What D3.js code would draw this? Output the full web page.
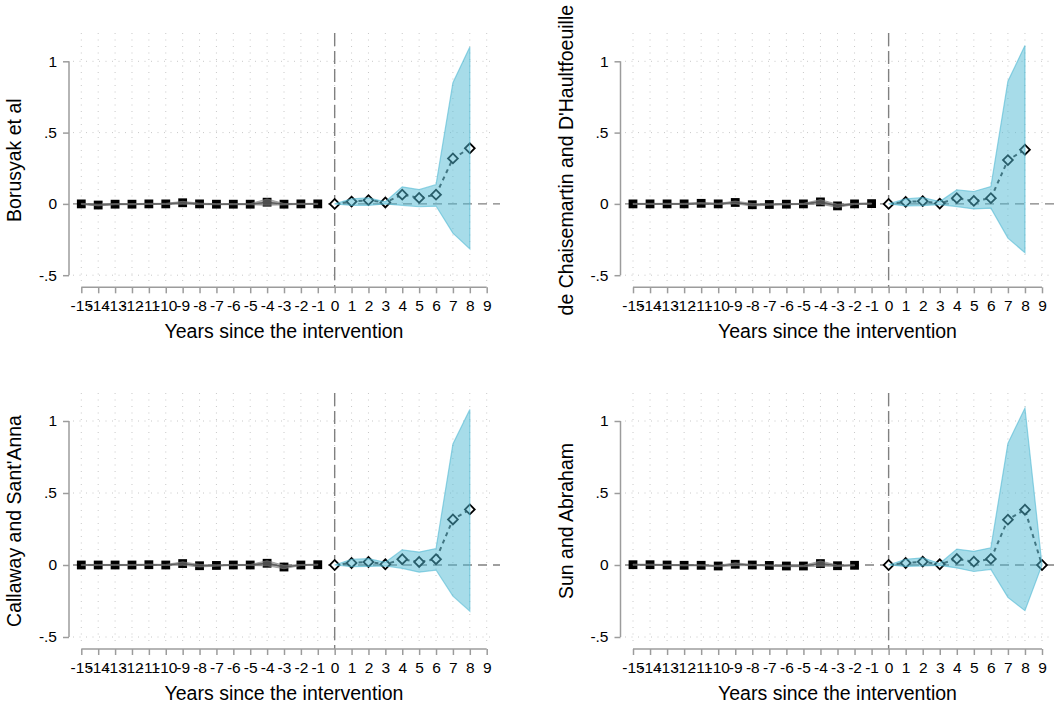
<!DOCTYPE html>
<html>
<head>
<meta charset="utf-8">
<script src="https://cdn.jsdelivr.net/npm/d3@7"></script>
<style>
  html, body { margin: 0; padding: 0; background: #fff; }
  svg text { font-family: "Liberation Sans", Arial, Helvetica, sans-serif; fill: #000; }
</style>
</head>
<body>
<svg id="chart" width="1056" height="707"></svg>
<script>
// Event-study estimates: pre-period leads (-15..-1) and post-period lags (0..8/9)
const xTicks = d3.range(-15, 10);
const xTickLabels = xTicks.map(String);
const yTicks = [-0.5, 0, 0.5, 1];
const yTickLabels = ["-.5", "0", ".5", "1"];
const xTitle = "Years since the intervention";

const preYears = d3.range(-15, 0);
const preYearsSA = d3.range(-15, -1);
const postYears = d3.range(0, 9);
const postYearsSA = d3.range(0, 10);

// Borusyak et al
const borusyakPre   = [0, -0.008, -0.002, -0.002, 0, 0, 0.008, 0, -0.002, -0.002, -0.002, 0.012, -0.002, 0, 0];
const borusyakPreHi = [0.004, -0.002, 0.002, 0.002, 0.004, 0.004, 0.018, 0.005, 0.002, 0.002, 0.002, 0.035, 0.003, 0.004, 0.004];
const borusyakPreLo = [-0.004, -0.014, -0.006, -0.006, -0.004, -0.004, -0.002, -0.005, -0.006, -0.006, -0.006, -0.01, -0.007, -0.004, -0.004];
const borusyakPost   = [0, 0.016, 0.026, 0.01, 0.065, 0.042, 0.065, 0.319, 0.39];
const borusyakPostHi = [0, 0.035, 0.042, 0.015, 0.12, 0.10, 0.135, 0.85, 1.10];
const borusyakPostLo = [0, -0.01, -0.01, 0, -0.01, -0.02, -0.015, -0.205, -0.315];

// de Chaisemartin and D'Haultfoeuille
const dcdhPre   = [0, 0, 0, 0, 0.004, 0, 0.01, -0.006, -0.004, -0.002, 0, 0.014, -0.014, 0, 0.002];
const dcdhPreHi = [0.004, 0.004, 0.004, 0.004, 0.009, 0.004, 0.02, 0.003, 0.001, 0.002, 0.004, 0.03, -0.002, 0.004, 0.006];
const dcdhPreLo = [-0.004, -0.004, -0.004, -0.004, -0.001, -0.004, 0, -0.015, -0.009, -0.006, -0.004, -0.002, -0.026, -0.004, -0.002];
const dcdhPost   = [0, 0.014, 0.019, 0.002, 0.04, 0.021, 0.04, 0.307, 0.38];
const dcdhPostHi = [0, 0.035, 0.045, 0.016, 0.098, 0.087, 0.122, 0.86, 1.11];
const dcdhPostLo = [0, -0.014, -0.012, -0.005, -0.019, -0.035, -0.03, -0.24, -0.343];

// Callaway and Sant'Anna
const csPre   = [0, 0, 0, 0, 0.002, 0, 0.01, -0.005, -0.003, 0, 0, 0.012, -0.014, 0, 0.002];
const csPreHi = [0.004, 0.004, 0.004, 0.004, 0.006, 0.004, 0.022, 0.004, 0.002, 0.004, 0.004, 0.03, -0.002, 0.004, 0.006];
const csPreLo = [-0.004, -0.004, -0.004, -0.004, -0.002, -0.004, -0.002, -0.014, -0.008, -0.004, -0.004, -0.006, -0.026, -0.004, -0.002];
const csPost   = [0, 0.014, 0.021, 0.005, 0.04, 0.021, 0.04, 0.316, 0.386];
const csPostHi = [0, 0.04, 0.044, 0.019, 0.105, 0.09, 0.114, 0.84, 1.08];
const csPostLo = [0, -0.012, -0.01, -0.007, -0.023, -0.05, -0.035, -0.216, -0.32];

// Sun and Abraham (reference period -1 omitted)
const saPre   = [0.002, 0.002, 0, -0.002, -0.002, -0.007, 0.005, 0, -0.003, -0.007, -0.007, 0.01, -0.005, -0.002];
const saPreHi = [0.006, 0.006, 0.004, 0.002, 0.002, -0.002, 0.015, 0.004, 0.001, -0.002, -0.002, 0.028, 0, 0.002];
const saPreLo = [-0.002, -0.002, -0.004, -0.006, -0.006, -0.012, -0.005, -0.004, -0.007, -0.012, -0.012, -0.008, -0.01, -0.006];
const saPost   = [0, 0.014, 0.023, 0.005, 0.042, 0.023, 0.042, 0.315, 0.384, 0];
const saPostHi = [0, 0.04, 0.05, 0.01, 0.11, 0.095, 0.12, 0.845, 1.09, 0];
const saPostLo = [0, -0.01, -0.007, -0.003, -0.02, -0.045, -0.03, -0.225, -0.317, 0];

const panelTitles = ["Borusyak et al", "de Chaisemartin and D'Haultfoeuille", "Callaway and Sant'Anna", "Sun and Abraham"];

const panels = [
  { title: panelTitles[0], col: 0, row: 0, pre: [preYears, borusyakPre, borusyakPreLo, borusyakPreHi], post: [postYears, borusyakPost, borusyakPostLo, borusyakPostHi] },
  { title: panelTitles[1], col: 1, row: 0, pre: [preYears, dcdhPre, dcdhPreLo, dcdhPreHi], post: [postYears, dcdhPost, dcdhPostLo, dcdhPostHi] },
  { title: panelTitles[2], col: 0, row: 1, pre: [preYears, csPre, csPreLo, csPreHi], post: [postYears, csPost, csPostLo, csPostHi] },
  { title: panelTitles[3], col: 1, row: 1, pre: [preYearsSA, saPre, saPreLo, saPreHi], post: [postYearsSA, saPost, saPostLo, saPostHi] }
];

// Layout of the 2x2 grid
const colLayout = [
  { axisX: 69, x0: 81.3, x1: 486.7, gridL: 73, gridR: 493, zeroR: 500 },
  { axisX: 620.5, x0: 633, x1: 1042, gridL: 625, gridR: 1052, zeroR: 1056 }
];
const rowLayout = [
  { yLo: 275.2, yHi: 61.3, axisY: 287.3, top: 33 },
  { yLo: 637, yHi: 421, axisY: 649, top: 393 }
];

const svg = d3.select("#chart");
const axisColor = "#9c9c9c";
const blueFill = "rgb(80,185,212)";
const tickFont = 15.5;
const titleFont = 19.5;

panels.forEach(p => {
  const C = colLayout[p.col], R = rowLayout[p.row];
  const x = d3.scaleLinear().domain([-15, 9]).range([C.x0, C.x1]);
  const y = d3.scaleLinear().domain([-0.5, 1]).range([R.yLo, R.yHi]);
  const g = svg.append("g");

  // dotted grid
  g.selectAll(".vgrid").data(xTicks).join("line")
    .attr("x1", d => x(d)).attr("x2", d => x(d))
    .attr("y1", R.top).attr("y2", R.axisY - 4)
    .attr("stroke", "#c8c8c8").attr("stroke-width", 1)
    .attr("stroke-dasharray", "1,5.5");
  g.selectAll(".hgrid").data(yTicks.filter(v => v !== 0)).join("line")
    .attr("x1", C.gridL).attr("x2", C.gridR)
    .attr("y1", d => y(d)).attr("y2", d => y(d))
    .attr("stroke", "#c8c8c8").attr("stroke-width", 1)
    .attr("stroke-dasharray", "1,5.5");

  // reference lines at zero
  g.append("line")
    .attr("x1", C.gridL).attr("x2", C.zeroR)
    .attr("y1", y(0)).attr("y2", y(0))
    .attr("stroke", "#808080").attr("stroke-width", 1.4)
    .attr("stroke-dasharray", "9,6");
  g.append("line")
    .attr("x1", x(0)).attr("x2", x(0))
    .attr("y1", R.top).attr("y2", R.axisY)
    .attr("stroke", "#808080").attr("stroke-width", 1.4)
    .attr("stroke-dasharray", "13,5");

  // y axis
  const yAxis = d3.axisLeft(y).tickValues(yTicks).tickSize(6).tickPadding(6)
    .tickFormat((d, i) => yTickLabels[i]);
  const ya = g.append("g").attr("transform", `translate(${C.axisX},0)`).call(yAxis);
  ya.select(".domain").attr("stroke", axisColor).attr("stroke-width", 1.5)
    .attr("d", `M0,${y(1)}V${y(-0.5)}`);
  ya.selectAll(".tick line").attr("stroke", axisColor).attr("stroke-width", 1.5);
  ya.selectAll(".tick text").attr("font-size", tickFont).attr("fill", "#000")
    .attr("font-family", '"Liberation Sans", Arial, sans-serif');

  // x axis
  const xAxis = d3.axisBottom(x).tickValues(xTicks).tickSize(6).tickPadding(7)
    .tickFormat((d, i) => xTickLabels[i]);
  const xa = g.append("g").attr("transform", `translate(0,${R.axisY})`).call(xAxis);
  xa.select(".domain").attr("stroke", axisColor).attr("stroke-width", 1.5)
    .attr("d", `M${x(-15)},0H${x(9)}`);
  xa.selectAll(".tick line").attr("stroke", axisColor).attr("stroke-width", 1.5);
  xa.selectAll(".tick text").attr("font-size", tickFont).attr("fill", "#000")
    .attr("font-family", '"Liberation Sans", Arial, sans-serif');

  // axis titles
  g.append("text")
    .attr("x", (C.x0 + C.x1) / 2).attr("y", R.axisY + 51)
    .attr("text-anchor", "middle").attr("font-size", titleFont)
    .text(xTitle);
  g.append("text")
    .attr("transform", `translate(${C.axisX - 48},${(R.top + R.axisY) / 2}) rotate(-90)`)
    .attr("text-anchor", "middle").attr("font-size", titleFont)
    .text(p.title);

  // pre-period: connected squares with grey band
  const [preX, preV, preLo, preHi] = p.pre;
  const preRows = preX.map((t, i) => ({ t, v: preV[i], lo: preLo[i], hi: preHi[i] }));
  g.append("path").datum(preRows)
    .attr("fill", "none").attr("stroke", "#2a2a2a").attr("stroke-width", 1.6)
    .attr("d", d3.line().x(d => x(d.t)).y(d => y(d.v)));
  g.selectAll(".sq").data(preRows).join("rect")
    .attr("x", d => x(d.t) - 4.4).attr("y", d => y(d.v) - 4.4)
    .attr("width", 8.8).attr("height", 8.8).attr("fill", "#000");
  g.append("path").datum(preRows)
    .attr("fill", "#808080").attr("fill-opacity", 0.6)
    .attr("stroke", "#808080").attr("stroke-opacity", 0.6).attr("stroke-width", 1)
    .attr("d", d3.area().x(d => x(d.t)).y0(d => y(d.lo)).y1(d => y(d.hi)));

  // post-period: dashed line through hollow diamonds, blue band on top
  const [postX, postV, postLo, postHi] = p.post;
  const postRows = postX.map((t, i) => ({ t, v: postV[i], lo: postLo[i], hi: postHi[i] }));
  g.append("path").datum(postRows)
    .attr("fill", "none").attr("stroke", "#333").attr("stroke-width", 2)
    .attr("stroke-dasharray", "4,4")
    .attr("d", d3.line().x(d => x(d.t)).y(d => y(d.v)));
  const dia = d3.symbol().type(d3.symbolSquare).size(48);
  g.selectAll(".dm").data(postRows).join("path")
    .attr("transform", d => `translate(${x(d.t)},${y(d.v)}) rotate(45)`)
    .attr("d", dia)
    .attr("fill", "#fff").attr("stroke", "#000").attr("stroke-width", 1.8);
  g.append("path").datum(postRows)
    .attr("fill", blueFill).attr("fill-opacity", 0.5)
    .attr("stroke", blueFill).attr("stroke-opacity", 0.6).attr("stroke-width", 1.2)
    .attr("d", d3.area().x(d => x(d.t)).y0(d => y(d.lo)).y1(d => y(d.hi)));
});
</script>
</body>
</html>
